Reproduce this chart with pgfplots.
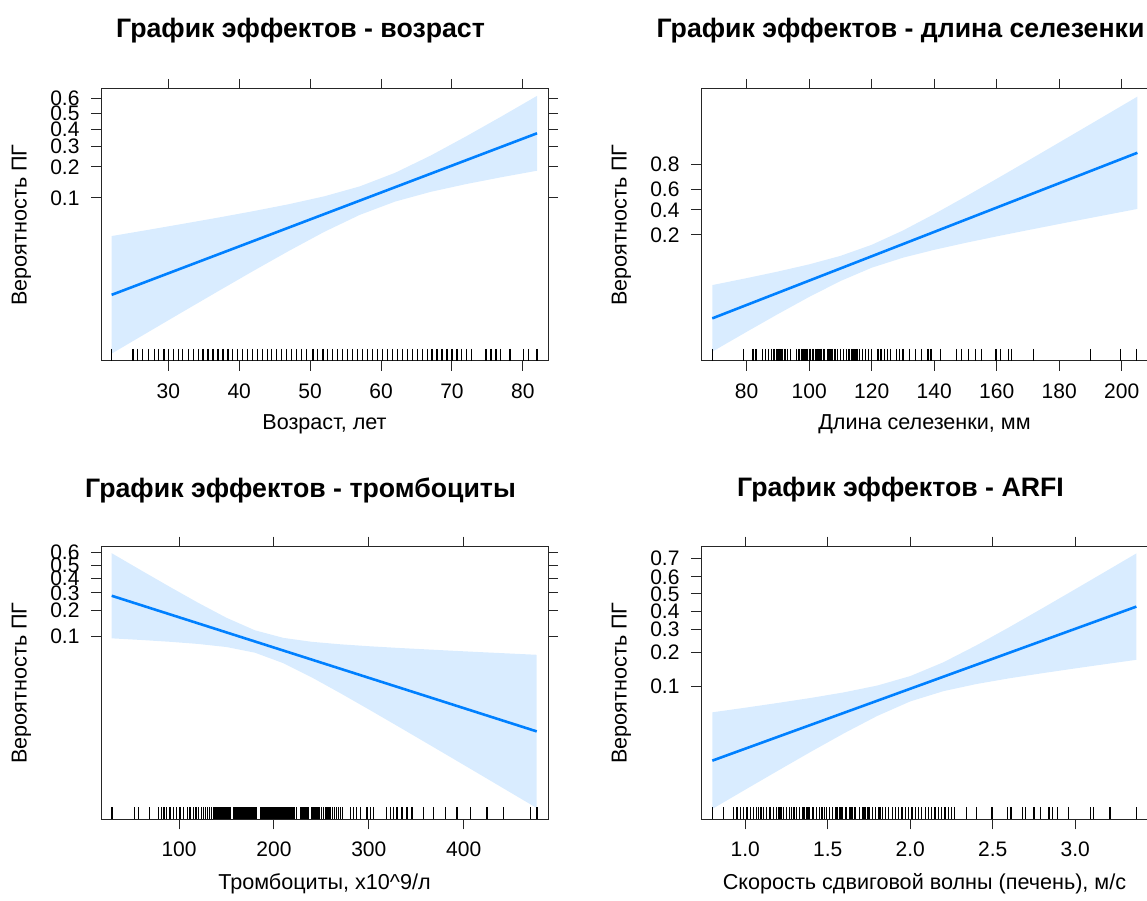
\documentclass[border=0pt]{standalone}
\usepackage{fontspec}
\setmainfont{Liberation Sans}
\usepackage{pgfplots}
\pgfplotsset{compat=1.18}
\definecolor{effline}{HTML}{0080FF}
\definecolor{effband}{HTML}{D9ECFF}
\pgfplotsset{
  eff/.style={
    scale only axis, width=447pt, height=272pt,
    axis line style={black!85, line width=1pt},
    every tick/.style={black!85, line width=1pt},
    major tick length=10pt,
    tick align=outside,
    xtick pos=both, ytick pos=both,
    xticklabel pos=lower, yticklabel pos=left,
    ticklabel style={font=\fontsize{21}{25}\selectfont},
    xticklabel style={yshift=-9pt},
    yticklabel style={xshift=-8pt},
  },
  band/.style={fill=effband, draw=none},
  fit/.style={effline, line width=2.6pt},
  rug/.style={only marks, mark=|, mark size=6pt, black, mark options={line width=1.25pt}},
}
\newcommand{\lab}{\fontsize{21.6}{26}\selectfont}
\newcommand{\ttl}{\fontsize{26.7}{32}\selectfont\bfseries}
\begin{document}
\begin{tikzpicture}
\path[use as bounding box] (0pt,0pt) rectangle (1147pt,901pt);

% ---------------- Panel 1: age
\begin{axis}[eff, at={(101pt,540pt)}, anchor=south west,
  xmin=20.5, xmax=83.55, ymin=-6.457, ymax=0.645,
  xtick={30,40,50,60,70,80}, xticklabels={30,40,50,60,70,80},
  ytick={-2.1972,-1.3863,-0.8473,-0.4055,0,0.4055},
  yticklabels={0.1,0.2,0.3,0.4,0.5,0.6}]
\addplot[band] coordinates {
 (22,-3.195) (27,-3.038) (32,-2.877) (37,-2.714) (42,-2.544) (47,-2.363) (52,-2.157) (57,-1.898) (62,-1.542) (67,-1.093) (72,-0.592) (77,-0.070) (82,0.465)
 (82,-1.489) (77,-1.658) (72,-1.838) (67,-2.041) (62,-2.294) (57,-2.642) (52,-3.085) (47,-3.583) (42,-4.104) (37,-4.638) (32,-5.177) (27,-5.720) (22,-6.265)};
\addplot[fit] coordinates {(22,-4.730) (82,-0.512)};
\addplot[rug] table[row sep=\\, x=x, y expr=-6.30] {x\\ 22\\ 25\\ 25.7\\ 26.4\\ 27.2\\ 28\\ 28.6\\ 29.4\\ 30\\ 30.7\\ 31.4\\ 32\\ 32.8\\ 33.5\\ 34.2\\ 34.9\\ 35.6\\ 36.3\\ 37\\ 37.7\\ 38.4\\ 39\\ 39.8\\ 40.5\\ 41.2\\ 41.9\\ 42.6\\ 43.3\\ 44\\ 44.6\\ 45.3\\ 46\\ 46.7\\ 47.4\\ 48.1\\ 48.8\\ 49.5\\ 50.4\\ 51\\ 51.8\\ 52.5\\ 53.2\\ 53.9\\ 54.6\\ 55.3\\ 56\\ 56.7\\ 57.4\\ 58.1\\ 58.8\\ 59.5\\ 60.2\\ 60.9\\ 61.6\\ 62.3\\ 63\\ 63.7\\ 64.4\\ 65.1\\ 65.8\\ 66.5\\ 67.2\\ 67.9\\ 68.6\\ 69.3\\ 70\\ 70.7\\ 71.4\\ 72.1\\ 72.8\\ 74.8\\ 75.5\\ 76.2\\ 76.9\\ 78.2\\ 80.1\\ 80.8\\ 82\\};
\end{axis}

% ---------------- Panel 2: spleen length
\begin{axis}[eff, at={(701pt,540pt)}, anchor=south west,
  xmin=65.4, xmax=208.4, ymin=-6.33, ymax=4.33,
  xtick={80,100,120,140,160,180,200}, xticklabels={80,100,120,140,160,180,200},
  ytick={-1.3863,-0.4055,0.4055,1.3863},
  yticklabels={0.2,0.4,0.6,0.8}]
\addplot[band] coordinates {
 (69,-3.355) (80,-3.083) (90,-2.824) (100,-2.543) (110,-2.211) (120,-1.777) (130,-1.216) (140,-0.571) (150,0.111) (160,0.811) (170,1.520) (180,2.235) (190,2.952) (205,4.031)
 (205,-0.371) (190,-0.724) (180,-0.961) (170,-1.202) (160,-1.447) (150,-1.701) (140,-1.973) (130,-2.282) (120,-2.675) (110,-3.197) (100,-3.819) (90,-4.492) (80,-5.187) (69,-5.965)};
\addplot[fit] coordinates {(69,-4.66) (205,1.83)};
\addplot[rug] table[row sep=\\, x=x, y expr=-6.095] {x\\ 69\\ 79\\ 82\\ 83\\ 85\\ 86\\ 87\\ 88\\ 88.5\\ 89\\ 89.5\\ 90\\ 90.5\\ 91\\ 91.5\\ 92\\ 92.5\\ 93\\ 94\\ 96\\ 96.5\\ 97\\ 97.5\\ 98\\ 98.5\\ 99\\ 99.5\\ 100\\ 100.5\\ 101\\ 101.5\\ 102\\ 102.5\\ 103\\ 103.5\\ 104\\ 104.5\\ 105\\ 106\\ 106.5\\ 107\\ 107.5\\ 108\\ 108.5\\ 109\\ 110\\ 111\\ 112\\ 112.5\\ 113\\ 113.5\\ 114\\ 114.5\\ 115\\ 115.5\\ 116\\ 117\\ 118\\ 119\\ 120\\ 122\\ 123\\ 124\\ 125\\ 126\\ 128\\ 129\\ 130\\ 132\\ 134\\ 136\\ 138\\ 139\\ 142.1\\ 147.2\\ 148.8\\ 150.9\\ 153.1\\ 155.2\\ 159.8\\ 161.1\\ 163.7\\ 164.8\\ 171.7\\ 189.9\\ 199.5\\ 204.8\\};
\end{axis}

% ---------------- Panel 3: platelets
\begin{axis}[eff, at={(101pt,81.7pt)}, anchor=south west, height=272.6pt,
  xmin=17.7, xmax=488.9, ymin=-7.925, ymax=0.594,
  xtick={100,200,300,400}, xticklabels={100,200,300,400},
  ytick={-2.1972,-1.3863,-0.8473,-0.4055,0,0.4055},
  yticklabels={0.1,0.2,0.3,0.4,0.5,0.6}]
\addplot[band] coordinates {
 (29,0.390) (60,-0.145) (90,-0.657) (120,-1.157) (150,-1.628) (180,-2.019) (210,-2.256) (240,-2.379) (270,-2.456) (300,-2.516) (330,-2.568) (360,-2.614) (390,-2.660) (420,-2.704) (450,-2.746) (477,-2.784)
 (477,-7.572) (450,-7.100) (420,-6.574) (390,-6.050) (360,-5.528) (330,-5.008) (300,-4.492) (270,-3.984) (240,-3.493) (210,-3.048) (180,-2.719) (150,-2.542) (120,-2.445) (90,-2.377) (60,-2.321) (29,-2.270)};
\addplot[fit] coordinates {(29,-0.94) (477,-5.178)};
\addplot[rug] table[row sep=\\, x=x, y expr=-7.737] {x\\ 29.3\\ 52.9\\ 57.1\\ 68.7\\ 78.2\\ 81.7\\ 84.2\\ 87\\ 90.5\\ 94\\ 97.5\\ 101\\ 104.6\\ 108.8\\ 111.6\\ 115.1\\ 117.9\\ 120.4\\ 123.9\\ 126\\ 128\\ 130\\ 132\\ 134\\ 136\\ 138\\ 140\\ 141\\ 142\\ 144\\ 145\\ 146\\ 147\\ 148\\ 149\\ 150\\ 151\\ 152\\ 153\\ 154\\ 158\\ 159\\ 160\\ 161\\ 162\\ 163\\ 164\\ 165\\ 166\\ 167\\ 168\\ 169\\ 170\\ 171\\ 172\\ 173\\ 174\\ 175\\ 176\\ 177\\ 178\\ 180\\ 181\\ 182\\ 186\\ 187\\ 188\\ 189\\ 190\\ 191\\ 192\\ 193\\ 194\\ 195\\ 196\\ 197\\ 198\\ 199\\ 200\\ 201\\ 202\\ 203\\ 204\\ 205\\ 206\\ 207\\ 208\\ 209\\ 210\\ 211\\ 212\\ 213\\ 214\\ 215\\ 216\\ 217\\ 218\\ 219\\ 220\\ 221\\ 222\\ 224\\ 228\\ 229\\ 230\\ 231\\ 232\\ 233\\ 234\\ 236\\ 240\\ 241\\ 242\\ 243\\ 244\\ 245\\ 246\\ 247\\ 248\\ 250\\ 252\\ 254\\ 256\\ 258\\ 260\\ 262\\ 264\\ 266\\ 268\\ 270\\ 272\\ 280.4\\ 283.9\\ 287.4\\ 290.9\\ 298\\ 301.5\\ 305\\ 319\\ 322.6\\ 326.1\\ 329.6\\ 334.9\\ 340.2\\ 345.4\\ 357.7\\ 368.3\\ 380.6\\ 392.9\\ 407\\ 424.5\\ 442.1\\ 470.3\\ 477.3\\};
\end{axis}

% ---------------- Panel 4: ARFI
\begin{axis}[eff, at={(701pt,81.7pt)}, anchor=south west, height=272.6pt,
  xmin=0.7315, xmax=3.4406, ymin=-5.34, ymax=1.12,
  xtick={1,1.5,2,2.5,3}, xticklabels={1.0,1.5,2.0,2.5,3.0},
  ytick={-2.1972,-1.3863,-0.8473,-0.4055,0,0.4055,0.8473},
  yticklabels={0.1,0.2,0.3,0.4,0.5,0.6,0.7}]
\addplot[band] coordinates {
 (0.8,-2.805) (1.0,-2.695) (1.2,-2.581) (1.4,-2.462) (1.6,-2.330) (1.8,-2.170) (2.0,-1.946) (2.2,-1.620) (2.4,-1.219) (2.6,-0.787) (2.8,-0.340) (3.0,0.114) (3.2,0.571) (3.37,0.961)
 (3.37,-1.561) (3.2,-1.653) (3.0,-1.764) (2.8,-1.878) (2.6,-1.999) (2.4,-2.135) (2.2,-2.304) (2.0,-2.546) (1.8,-2.890) (1.6,-3.298) (1.4,-3.734) (1.2,-4.183) (1.0,-4.637) (0.8,-5.095)};
\addplot[fit] coordinates {(0.8,-3.95) (3.37,-0.30)};
\addplot[rug] table[row sep=\\, x=x, y expr=-5.198] {x\\ 0.80\\ 0.87\\ 0.93\\ 0.95\\ 0.97\\ 0.99\\ 1.01\\ 1.03\\ 1.05\\ 1.07\\ 1.08\\ 1.09\\ 1.10\\ 1.11\\ 1.13\\ 1.15\\ 1.17\\ 1.19\\ 1.20\\ 1.21\\ 1.22\\ 1.23\\ 1.25\\ 1.27\\ 1.28\\ 1.29\\ 1.30\\ 1.31\\ 1.33\\ 1.35\\ 1.36\\ 1.37\\ 1.38\\ 1.39\\ 1.41\\ 1.43\\ 1.45\\ 1.46\\ 1.47\\ 1.48\\ 1.49\\ 1.51\\ 1.53\\ 1.55\\ 1.56\\ 1.57\\ 1.58\\ 1.59\\ 1.61\\ 1.63\\ 1.64\\ 1.65\\ 1.66\\ 1.67\\ 1.69\\ 1.71\\ 1.72\\ 1.73\\ 1.74\\ 1.75\\ 1.77\\ 1.79\\ 1.81\\ 1.82\\ 1.83\\ 1.85\\ 1.87\\ 1.89\\ 1.91\\ 1.93\\ 1.95\\ 1.97\\ 1.99\\ 2.01\\ 2.03\\ 2.05\\ 2.07\\ 2.09\\ 2.11\\ 2.13\\ 2.15\\ 2.17\\ 2.19\\ 2.21\\ 2.23\\ 2.25\\ 2.27\\ 2.34\\ 2.40\\ 2.49\\ 2.50\\ 2.59\\ 2.61\\ 2.68\\ 2.70\\ 2.75\\ 2.79\\ 2.84\\ 2.86\\ 2.89\\ 2.96\\ 3.09\\ 3.11\\ 3.21\\ 3.37\\};
\end{axis}

% ---------------- Titles and labels
\node[font=\ttl] at (300.5pt,870pt) {График эффектов - возраст};
\node[font=\ttl] at (900.5pt,870pt) {График эффектов - длина селезенки};
\node[font=\ttl] at (300.5pt,411pt) {График эффектов - тромбоциты};
\node[font=\ttl] at (900.5pt,411pt) {График эффектов - ARFI};
\node[font=\lab] at (324.5pt,477pt) {Возраст, лет};
\node[font=\lab] at (924.5pt,477pt) {Длина селезенки, мм};
\node[font=\lab] at (324.5pt,17pt) {Тромбоциты, x10\^{}9/л};
\node[font=\lab] at (924.5pt,17pt) {Скорость сдвиговой волны (печень), м/с};
\node[font=\lab, rotate=90] at (21.5pt,676pt) {Вероятность ПГ};
\node[font=\lab, rotate=90] at (621.5pt,676pt) {Вероятность ПГ};
\node[font=\lab, rotate=90] at (21.5pt,218pt) {Вероятность ПГ};
\node[font=\lab, rotate=90] at (621.5pt,218pt) {Вероятность ПГ};
\end{tikzpicture}
\end{document}
